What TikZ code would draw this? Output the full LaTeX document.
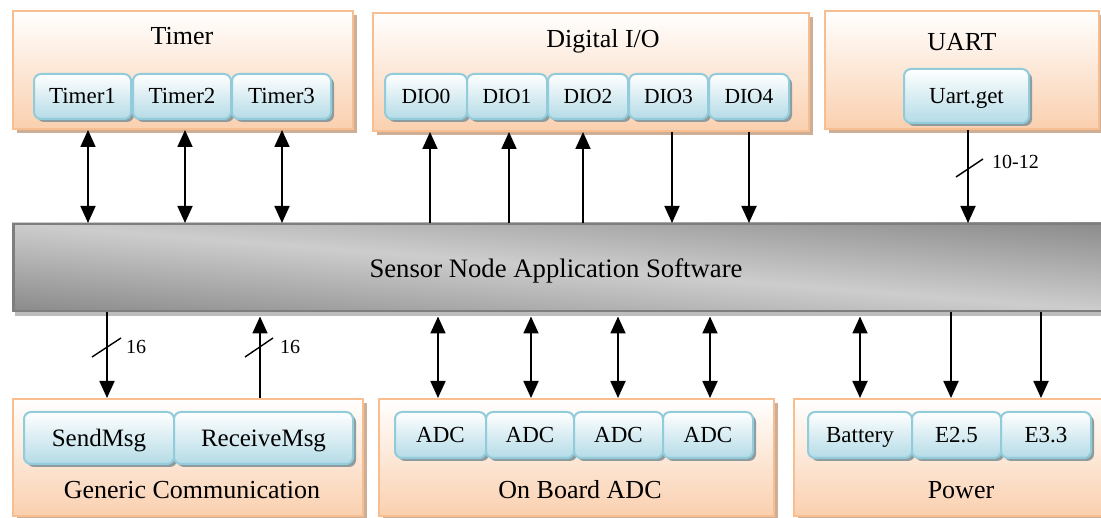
\documentclass[tikz,border=0pt]{standalone}
\usepackage{fontspec}
\setmainfont{Liberation Serif}
\usetikzlibrary{arrows.meta,shadows}

\definecolor{peach}{HTML}{FAD0AF}
\definecolor{peachline}{HTML}{F8BE90}
\definecolor{peachshadow}{HTML}{CDAE96}
\definecolor{bluebot}{HTML}{B4DBE6}
\definecolor{blueline}{HTML}{92CCDB}
\definecolor{boxshadow}{HTML}{8E9C9F}
\definecolor{busdark}{HTML}{636363}
\definecolor{buslight}{HTML}{CDCDCD}
\definecolor{busline}{HTML}{7E7E7E}
\definecolor{busshadow}{HTML}{BDBDBD}

\tikzset{
  grp/.style={draw=peachline, line width=2pt, top color=white, bottom color=peach,
    anchor=north west, inner sep=0pt,
    drop shadow={shadow xshift=4pt, shadow yshift=-4pt, fill=peachshadow, opacity=1}},
  unit/.style={draw=blueline, line width=2pt, rounded corners=7pt,
    top color=white, bottom color=bluebot, anchor=north west, inner sep=0pt,
    font=\fontsize{23}{26}\selectfont, text height=15pt, text depth=0pt,
    drop shadow={shadow xshift=3pt, shadow yshift=-3pt, fill=boxshadow, opacity=1}},
  dio/.style={unit, font=\fontsize{21.5}{24}\selectfont, text height=14pt},
  comm/.style={unit, font=\fontsize{25}{28}\selectfont, text height=16.5pt},
  title/.style={font=\fontsize{26}{30}\selectfont, inner sep=0pt, text height=17pt, text depth=0pt},
  lbl/.style={font=\fontsize{20}{24}\selectfont, inner sep=0pt, anchor=west},
  conn/.style={line width=1.8pt, >={Triangle[length=17pt,width=15pt]}},
  slash/.style={line width=1.4pt},
}

\begin{document}
\begin{tikzpicture}[x=1pt, y=-1pt]
\useasboundingbox (0,0) rectangle (1101,518);

% ---------- top groups ----------
\node[grp, minimum width=340pt, minimum height=118pt] (timer) at (12,10) {};
\node[title] (timerT) at (182,36) {Timer};
\node[unit, minimum width=97pt, minimum height=45pt] (t1) at (33,73) {Timer1};
\node[unit, minimum width=98pt, minimum height=45pt] (t2) at (132,73) {Timer2};
\node[unit, minimum width=99pt, minimum height=45pt] (t3) at (231,73) {Timer3};

\node[grp, minimum width=436pt, minimum height=118pt] (dio) at (372,12) {};
\node[title] (dioT) at (603,39) {Digital I/O};
\node[dio, minimum width=82pt, minimum height=45pt] (d0) at (384,73) {DIO0};
\node[dio, minimum width=80pt, minimum height=45pt] (d1) at (466,73) {DIO1};
\node[dio, minimum width=80pt, minimum height=45pt] (d2) at (547,73) {DIO2};
\node[dio, minimum width=79pt, minimum height=45pt] (d3) at (628,73) {DIO3};
\node[dio, minimum width=80pt, minimum height=45pt] (d4) at (708,73) {DIO4};

\node[grp, minimum width=274pt, minimum height=118pt] (uart) at (824,10) {};
\node[title] (uartT) at (962,42) {UART};
\node[unit, minimum width=125pt, minimum height=54pt] (ug) at (903,68) {Uart.get};

% ---------- software bus ----------
\fill[busshadow] (15,310) rectangle (1101,316);
\begin{scope}
  \clip (12,223) rectangle (1107,310);
  % light band running from the top left corner to the bottom right corner
  \shade[top color=busdark, bottom color=busdark, middle color=buslight,
         transform canvas={cm={1,-0.0799,0,1,(0pt,44.4pt)}}]
    (0,126.5) rectangle (1110,406.5);
\end{scope}
\node[draw=busline, line width=2.5pt, anchor=north west, inner sep=0pt,
      minimum width=1095pt, minimum height=87pt] (bus) at (12,223) {};
\node[title, font=\fontsize{26.7}{30}\selectfont] (busT) at (556,269) {Sensor Node Application Software};

% ---------- bottom groups ----------
\node[grp, minimum width=350pt, minimum height=117pt] (gen) at (12,398) {};
\node[title] (genT) at (192,490) {Generic Communication};
\node[comm, minimum width=150pt, minimum height=52pt] (snd) at (23,411) {SendMsg};
\node[comm, minimum width=179pt, minimum height=52pt] (rcv) at (173,411) {ReceiveMsg};

\node[grp, minimum width=395pt, minimum height=117pt] (adc) at (378,398) {};
\node[title] (adcT) at (580,490) {On Board ADC};
\node[unit, minimum width=91pt, minimum height=46pt] (a1) at (394,411) {ADC};
\node[unit, minimum width=88pt, minimum height=46pt] (a2) at (485,411) {ADC};
\node[unit, minimum width=89pt, minimum height=46pt] (a3) at (573,411) {ADC};
\node[unit, minimum width=90pt, minimum height=46pt] (a4) at (662,411) {ADC};

\node[grp, minimum width=312pt, minimum height=117pt] (pwr) at (793,398) {};
\node[title] (pwrT) at (961,490) {Power};
\node[unit, minimum width=104pt, minimum height=46pt] (bat) at (807,411) {Battery};
\node[unit, minimum width=89pt, minimum height=46pt] (e25) at (911,411) {E2.5};
\node[unit, minimum width=90pt, minimum height=46pt] (e33) at (1000,411) {E3.3};

% ---------- x positions of the connectors ----------
\foreach \n/\x in {xt1/88, xt2/185, xt3/282, xd0/430, xd1/509, xd2/583, xd3/672, xd4/749,
                   xu/968, xs/107, xr/260, xa1/438, xa2/531, xa3/618, xa4/710,
                   xb/860, xe1/951, xe2/1041}
  \coordinate (\n) at (\x,0);

% ---------- connectors above the bus ----------
\foreach \c in {xt1, xt2, xt3}
  \draw[conn, <->] (timer.south -| \c) -- (bus.north -| \c);
\foreach \c in {xd0, xd1, xd2}
  \draw[conn, ->] (bus.north -| \c) -- (dio.south -| \c);
\foreach \c in {xd3, xd4}
  \draw[conn, ->] (dio.south -| \c) -- (bus.north -| \c);
\draw[conn, ->] (uart.south -| xu) -- (bus.north -| xu);
\draw[slash] (956,177) -- (983,159);
\node[lbl] (w1) at (992,162) {10-12};

% ---------- connectors below the bus ----------
\draw[conn, ->] (bus.south -| xs) -- (gen.north -| xs);
\draw[conn, ->] (gen.north -| xr) -- ([yshift=-4pt]bus.south -| xr);
\draw[slash] (92,357) -- (121,338);
\draw[slash] (245,357) -- (273,338);
\node[lbl] (w2) at (126,347) {16};
\node[lbl] (w3) at (280,347) {16};

\foreach \c in {xa1, xa2, xa3, xa4, xb}
  \draw[conn, <->] ([yshift=-4pt]bus.south -| \c) -- (adc.north -| \c);
\foreach \c in {xe1, xe2}
  \draw[conn, ->] (bus.south -| \c) -- (adc.north -| \c);
\end{tikzpicture}
\end{document}
